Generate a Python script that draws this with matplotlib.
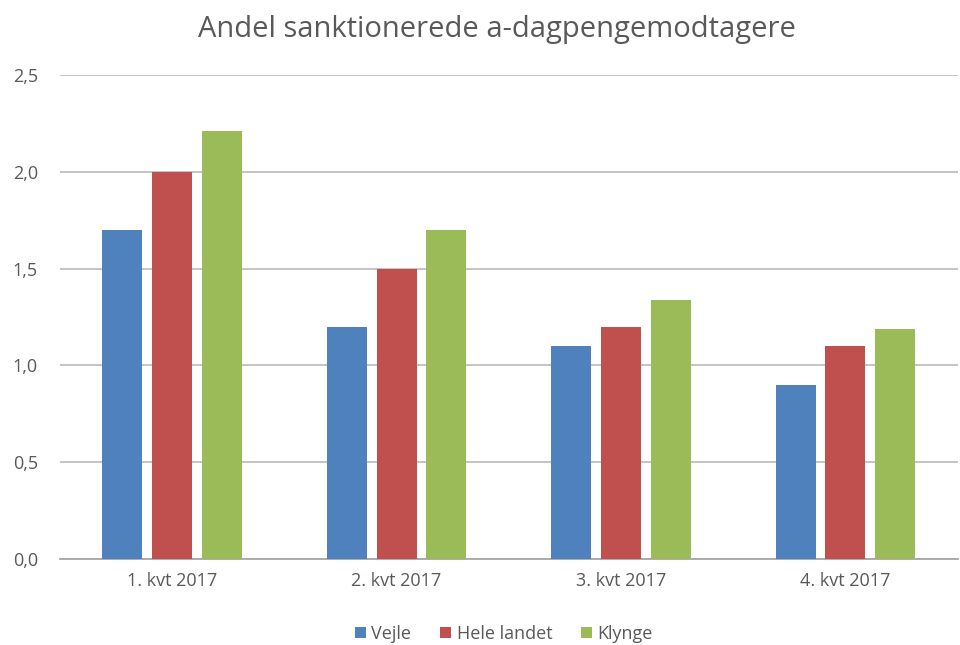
import matplotlib
matplotlib.use("Agg")
import matplotlib.pyplot as plt
import numpy as np

plt.rcParams['font.family'] = ['Open Sans', 'DejaVu Sans']

# data
categories = ["1. kvt 2017", "2. kvt 2017", "3. kvt 2017", "4. kvt 2017"]
series_names = ["Vejle", "Hele landet", "Klynge"]
vejle = [1.7, 1.2, 1.1, 0.9]
hele_landet = [2.0, 1.5, 1.2, 1.1]
klynge = [2.21, 1.70, 1.34, 1.19]
colors = ["#4F81BD", "#C0504D", "#9BBB59"]
yticks = [0.0, 0.5, 1.0, 1.5, 2.0, 2.5]

fig = plt.figure(figsize=(9.6, 6.45), dpi=100)
ax = fig.add_axes([0.0625, 0.1333, 0.935, 0.7504])

x = np.arange(len(categories))
width = 0.178
step = 0.222
for i, (vals, name, c) in enumerate(zip([vejle, hele_landet, klynge], series_names, colors)):
    ax.bar(x + (i - 1) * step, vals, width=width, color=c, label=name, zorder=3)

ax.set_xlim(-0.5, len(categories) - 0.5)
ax.set_ylim(0, 2.5)
ax.set_yticks(yticks)
ax.set_yticklabels([f"{v:.1f}".replace(".", ",") for v in yticks])
ax.set_xticks(x)
ax.set_xticklabels(categories)
ax.tick_params(axis='both', length=0, labelsize=13, colors="#595959")
ax.tick_params(axis='x', pad=9)
ax.tick_params(axis='y', pad=16)
ax.grid(axis='y', color="#BFBFBF", linewidth=1.3, zorder=0)
for s in ["top", "right", "left"]:
    ax.spines[s].set_visible(False)
ax.spines["bottom"].set_color("#A6A6A6")
ax.spines["bottom"].set_linewidth(1.3)

fig.suptitle("Andel sanktionerede a-dagpengemodtagere", x=0.518, y=0.977, fontsize=21, color="#595959")
fig.legend(loc="center", bbox_to_anchor=(0.525, 0.017), ncol=3, frameon=False,
           fontsize=13, handlelength=0.6, handleheight=0.6, handletextpad=0.3,
           columnspacing=1.6, labelcolor="#595959")

fig.savefig("out.png", dpi=100, facecolor="white")
